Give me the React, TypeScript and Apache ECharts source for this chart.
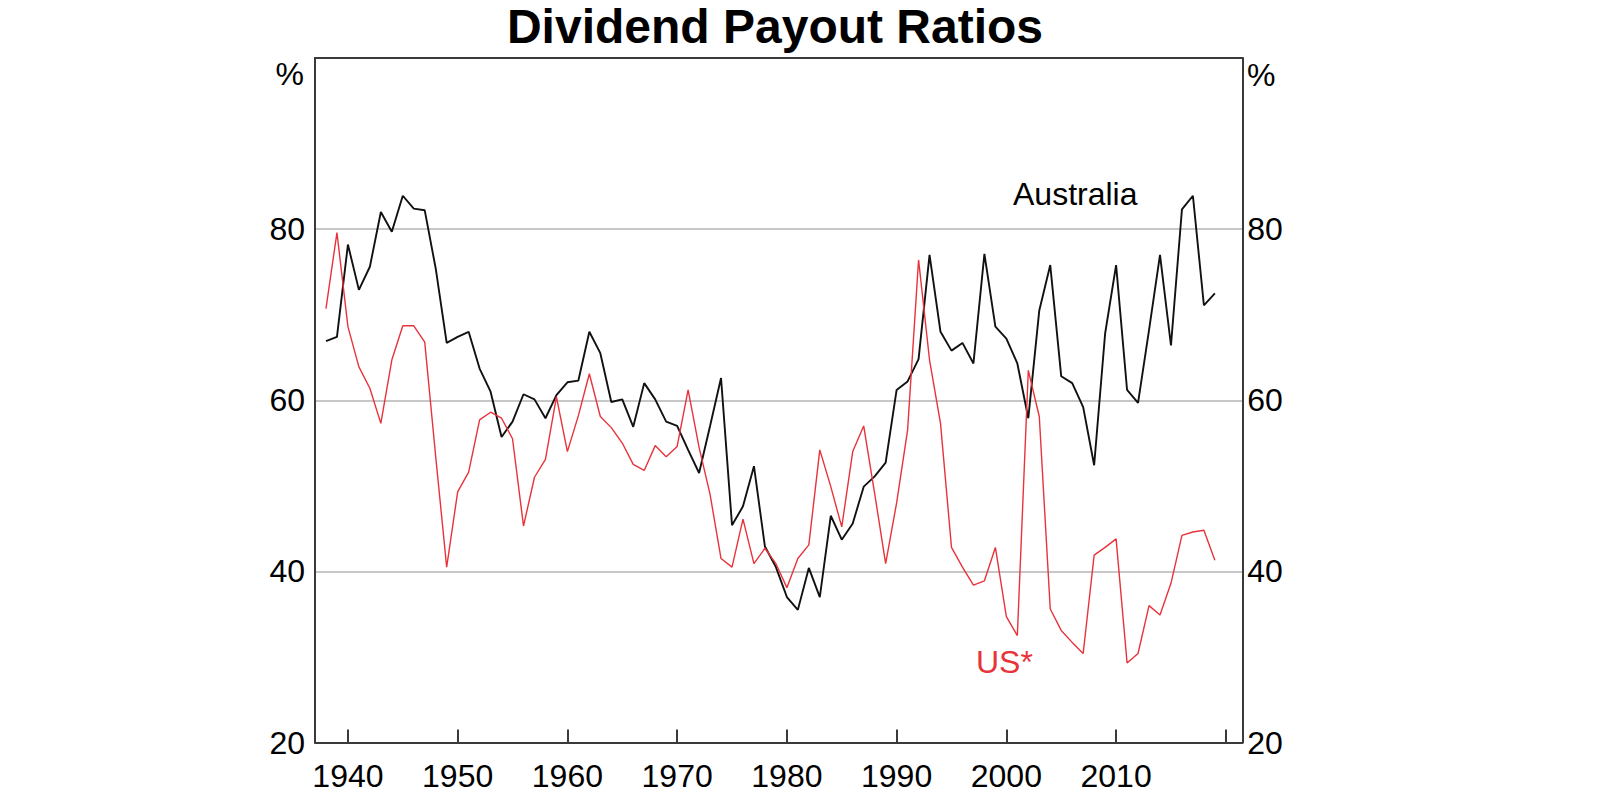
import React, { useEffect, useRef } from "react";
import * as echarts from "echarts";

const years = [
  1938, 1939, 1940, 1941, 1942, 1943, 1944, 1945, 1946, 1947,
  1948, 1949, 1950, 1951, 1952, 1953, 1954, 1955, 1956, 1957,
  1958, 1959, 1960, 1961, 1962, 1963, 1964, 1965, 1966, 1967,
  1968, 1969, 1970, 1971, 1972, 1973, 1974, 1975, 1976, 1977,
  1978, 1979, 1980, 1981, 1982, 1983, 1984, 1985, 1986, 1987,
  1988, 1989, 1990, 1991, 1992, 1993, 1994, 1995, 1996, 1997,
  1998, 1999, 2000, 2001, 2002, 2003, 2004, 2005, 2006, 2007,
  2008, 2009, 2010, 2011, 2012, 2013, 2014, 2015, 2016, 2017,
  2018, 2019,
];

const australia = [
  66.9, 67.4, 78.2, 72.9, 75.6, 82.0, 79.7, 83.9, 82.4, 82.2,
  75.4, 66.7, 67.4, 68.0, 63.7, 61.0, 55.7, 57.5, 60.7, 60.1,
  57.9, 60.6, 62.1, 62.3, 68.0, 65.5, 59.8, 60.1, 56.9, 62.0,
  60.1, 57.5, 57.0, 54.2, 51.5, 57.0, 62.6, 45.4, 47.6, 52.3,
  42.9, 40.5, 37.0, 35.5, 40.4, 37.0, 46.5, 43.7, 45.6, 49.9,
  51.1, 52.7, 61.2, 62.2, 64.8, 77.0, 68.0, 65.8, 66.7, 64.3,
  77.1, 68.6, 67.2, 64.3, 57.9, 70.5, 75.8, 62.8, 62.0, 59.2,
  52.4, 67.8, 75.8, 61.2, 59.7, 68.2, 77.0, 66.4, 82.3, 83.9,
  71.1, 72.5,
];

const us = [
  70.7, 79.6, 68.6, 63.9, 61.4, 57.3, 64.7, 68.7, 68.7, 66.8,
  53.4, 40.5, 49.3, 51.6, 57.7, 58.6, 57.9, 55.5, 45.3, 51.0,
  53.1, 60.4, 54.0, 58.2, 63.1, 58.1, 56.8, 55.0, 52.5, 51.8,
  54.7, 53.4, 54.6, 61.2, 54.5, 49.0, 41.5, 40.5, 46.1, 40.9,
  42.7, 40.9, 38.1, 41.5, 43.1, 54.2, 49.9, 45.2, 54.0, 57.0,
  49.1, 40.9, 48.0, 56.5, 76.4, 64.7, 57.3, 42.8, 40.5, 38.4,
  38.9, 42.8, 34.7, 32.5, 63.5, 58.1, 35.6, 33.1, 31.7, 30.4,
  41.9, 42.8, 43.8, 29.3, 30.4, 36.0, 34.9, 38.6, 44.2, 44.6,
  44.8, 41.3,
];

const xLabelYears = [1940, 1950, 1960, 1970, 1980, 1990, 2000, 2010];
const xTickYears = [1940, 1950, 1960, 1970, 1980, 1990, 2000, 2010, 2020];

const FONT = "'Liberation Sans', Arial, Helvetica, sans-serif";
const AXIS_COLOR = "#3a3a3a";
const RED = "#e8333b";

export default function App() {
  const ref = useRef<HTMLDivElement>(null);

  useEffect(() => {
    document.body.style.margin = "0";
    const chart = echarts.init(ref.current as HTMLDivElement, null, { renderer: "svg" });
    const axisLine = { show: true, lineStyle: { color: AXIS_COLOR, width: 2 } };
    chart.setOption({
      animation: false,
      backgroundColor: "#ffffff",
      textStyle: { fontFamily: FONT },
      grid: { left: 315, top: 58, right: 363.7, bottom: 67.5, containLabel: false },
      xAxis: [
        {
          type: "value",
          min: 1937,
          max: 2021.5,
          position: "bottom",
          axisLine,
          axisTick: {
            show: true,
            inside: true,
            length: 13,
            customValues: xTickYears,
            lineStyle: { color: AXIS_COLOR, width: 2 },
          },
          axisLabel: {
            customValues: xLabelYears,
            formatter: (v: number) => String(v),
            margin: 17,
            fontSize: 32,
            color: "#000",
            fontFamily: FONT,
          },
          splitLine: { show: false },
        },
        {
          type: "value",
          min: 1937,
          max: 2021.5,
          position: "top",
          axisLine,
          axisTick: { show: false },
          axisLabel: { show: false },
          splitLine: { show: false },
        },
      ],
      yAxis: [
        {
          type: "value",
          min: 20,
          max: 100,
          interval: 20,
          position: "left",
          axisLine,
          axisTick: { show: false },
          axisLabel: {
            showMaxLabel: false,
            margin: 10,
            fontSize: 32,
            color: "#000",
            fontFamily: FONT,
          },
          splitLine: { show: true, lineStyle: { color: "#b5b5b5", width: 1.5 } },
        },
        {
          type: "value",
          min: 20,
          max: 100,
          interval: 20,
          position: "right",
          axisLine,
          axisTick: { show: false },
          axisLabel: {
            showMaxLabel: false,
            margin: 5,
            fontSize: 32,
            color: "#000",
            fontFamily: FONT,
          },
          splitLine: { show: false },
        },
      ],
      series: [
        {
          name: "Australia",
          type: "line",
          xAxisIndex: 0,
          yAxisIndex: 0,
          data: years.map((y, i) => [y, australia[i]]),
          symbol: "none",
          showSymbol: false,
          lineStyle: { color: "#111111", width: 1.9 },
          z: 3,
        },
        {
          name: "US*",
          type: "line",
          xAxisIndex: 0,
          yAxisIndex: 0,
          data: years.map((y, i) => [y, us[i]]),
          symbol: "none",
          showSymbol: false,
          lineStyle: { color: RED, width: 1.4 },
          z: 4,
        },
      ],
      graphic: [
        {
          type: "text",
          x: 775,
          y: 26,
          style: {
            text: "Dividend Payout Ratios",
            font: `bold 48px ${FONT}`,
            fill: "#000",
            textAlign: "center",
            textVerticalAlign: "middle",
          },
        },
        {
          type: "text",
          x: 304,
          y: 74,
          style: {
            text: "%",
            font: `32px ${FONT}`,
            fill: "#000",
            textAlign: "right",
            textVerticalAlign: "middle",
          },
        },
        {
          type: "text",
          x: 1247,
          y: 75,
          style: {
            text: "%",
            font: `32px ${FONT}`,
            fill: "#000",
            textAlign: "left",
            textVerticalAlign: "middle",
          },
        },
        {
          type: "text",
          x: 1013,
          y: 194,
          style: {
            text: "Australia",
            font: `32px ${FONT}`,
            fill: "#000",
            textAlign: "left",
            textVerticalAlign: "middle",
          },
        },
        {
          type: "text",
          x: 976,
          y: 662,
          style: {
            text: "US*",
            font: `32px ${FONT}`,
            fill: RED,
            textAlign: "left",
            textVerticalAlign: "middle",
          },
        },
      ],
    });
    return () => chart.dispose();
  }, []);

  return <div ref={ref} style={{ width: 1606, height: 810 }} />;
}
